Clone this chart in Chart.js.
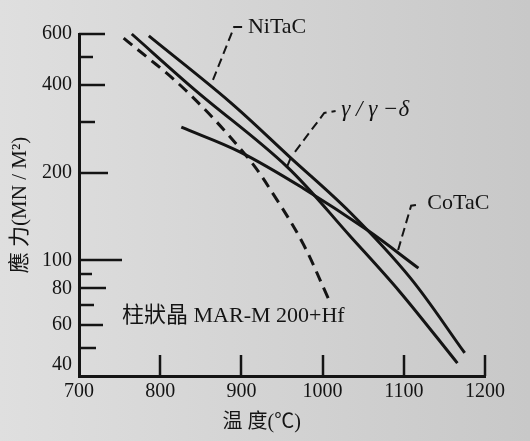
<!DOCTYPE html>
<html><head><meta charset="utf-8">
<script src="https://cdn.jsdelivr.net/npm/chart.js@4"></script>
<style>
html,body{margin:0;padding:0;}
body{width:530px;height:441px;overflow:hidden;background:linear-gradient(90deg,#dfdfdf,#c8c8c8);}
</style></head><body>
<canvas id="c" width="530" height="441"></canvas>
<script>
// ---- data ----
const xTickValues = [700, 800, 900, 1000, 1100, 1200];
const yLabelValues = [40, 60, 80, 100, 200, 400, 600];
const yMinorValues = [50, 70, 90, 300, 500];

const nitacTemp   = [786, 886, 960, 1034, 1108, 1175];
const nitacStress = [591, 350, 226, 146, 87, 48];
const gammaTemp   = [765, 843, 956, 1034, 1095, 1166];
const gammaStress = [600, 385, 210, 121, 78, 44.3];
const cotacTemp   = [826, 898, 976, 1055, 1118];
const cotacStress = [287, 236, 177, 127, 94];
const marmTemp    = [755, 831, 907, 944, 976, 1007];
const marmStress  = [581, 385, 227, 161, 114, 74];
const barTemp     = [961, 956];
const barStress   = [226, 209];

const nitacLeaderTemp   = [865, 891, 902];
const nitacLeaderStress = [417, 634, 634];
const gammaLeaderTemp   = [966, 1002, 1016];
const gammaLeaderStress = [236, 321, 326];
const cotacLeaderTemp   = [1093, 1109, 1121];
const cotacLeaderStress = [108.5, 154, 156];

const seriesLabels = ['NiTaC', 'γ / γ −δ', 'CoTaC'];
const labelTemp    = [908, 1023, 1129];
const labelStress  = [634, 329, 157];
const noteText     = '柱狀晶 MAR-M 200+Hf';
const noteTemp     = 753;
const noteStress   = 64.3;
const xTitle = '温 度(℃)';
const yTitle = '應 力(MN / M²)';

// ---- helpers ----
const pts = (xs, ys) => xs.map((x, i) => ({x: x, y: ys[i]}));
const INK = '#141414';
const SERIF = '"Liberation Serif", "Noto Sans CJK TC", serif';

function curve(label, xs, ys, extra) {
  return Object.assign({
    label: label, data: pts(xs, ys), borderColor: INK, borderWidth: 3,
    pointRadius: 0, fill: false, tension: 0.35, clip: false
  }, extra || {});
}

const yTickLen = {600: 26, 500: 14, 400: 26, 300: 16, 200: 29, 100: 43, 90: 13, 80: 27, 70: 15, 60: 24, 50: 17};
const xTickLen = 21;

const decorPlugin = {
  id: 'decor',
  afterDatasetsDraw(chart) {
    const ctx = chart.ctx, xs = chart.scales.x, ys = chart.scales.y, ca = chart.chartArea;
    ctx.save();
    ctx.strokeStyle = INK;
    ctx.lineWidth = 2.5;
    ctx.lineCap = 'butt';
    // inward y ticks
    yLabelValues.concat(yMinorValues).forEach(v => {
      const len = yTickLen[v];
      if (!len) return;
      const py = Math.round(ys.getPixelForValue(v));
      ctx.beginPath(); ctx.moveTo(ca.left, py); ctx.lineTo(ca.left + len, py); ctx.stroke();
    });
    // inward x ticks
    xTickValues.forEach(v => {
      if (v === xs.min) return;
      const px = Math.round(xs.getPixelForValue(v));
      ctx.beginPath(); ctx.moveTo(px, ca.bottom); ctx.lineTo(px, ca.bottom - xTickLen); ctx.stroke();
    });
    // series labels
    ctx.fillStyle = INK;
    ctx.textBaseline = 'middle';
    ctx.textAlign = 'left';
    seriesLabels.forEach((t, i) => {
      ctx.font = (i === 1 ? 'italic 23px ' : '22px ') + SERIF;
      ctx.fillText(t, xs.getPixelForValue(labelTemp[i]), ys.getPixelForValue(labelStress[i]));
    });
    // note
    ctx.font = '22px ' + SERIF;
    ctx.fillText(noteText, xs.getPixelForValue(noteTemp), ys.getPixelForValue(noteStress));
    // x title
    ctx.font = '20px ' + SERIF;
    ctx.textAlign = 'center';
    ctx.fillText(xTitle, ca.left + 0.45 * (ca.right - ca.left), ca.bottom + 47);
    ctx.restore();
  }
};

const straight = {tension: 0};
const leader = {borderWidth: 2, borderDash: [9, 5], tension: 0};

new Chart(document.getElementById('c'), {
  type: 'line',
  data: {
    datasets: [
      curve('NiTaC', nitacTemp, nitacStress),
      curve('γ/γ−δ', gammaTemp, gammaStress),
      curve('CoTaC', cotacTemp, cotacStress),
      curve('MAR-M 200+Hf', marmTemp, marmStress, {borderDash: [11, 7]}),
      curve('bar', barTemp, barStress, {borderWidth: 2, tension: 0}),
      curve('NiTaC leader', nitacLeaderTemp, nitacLeaderStress, leader),
      curve('γ leader', gammaLeaderTemp, gammaLeaderStress, leader),
      curve('CoTaC leader', cotacLeaderTemp, cotacLeaderStress, leader)
    ]
  },
  options: {
    responsive: false,
    animation: false,
    devicePixelRatio: 1,
    layout: {padding: {left: 6, right: 45, top: 34, bottom: 0}},
    plugins: {legend: {display: false}, tooltip: {enabled: false}},
    scales: {
      x: {
        type: 'linear', min: 700, max: 1200,
        afterBuildTicks: s => { s.ticks = xTickValues.map(v => ({value: v})); },
        afterFit: s => { s.height = 65; },
        border: {display: true, color: INK, width: 3},
        grid: {display: true, drawOnChartArea: false, drawTicks: false},
        ticks: {color: INK, font: {family: SERIF, size: 20}, padding: 4, maxRotation: 0, autoSkip: false,
          callback: v => String(v)}
      },
      y: {
        type: 'logarithmic', min: 40, max: 600,
        afterBuildTicks: s => { s.ticks = yLabelValues.map(v => ({value: v})); },
        afterFit: s => { s.width = 73; },
        border: {display: true, color: INK, width: 3},
        grid: {display: true, drawOnChartArea: false, drawTicks: false},
        ticks: {
          color: INK, font: {family: SERIF, size: 20, lineHeight: 1.1}, padding: 7, autoSkip: false,
          callback: v => (v === yLabelValues[0] ? [String(v), ''] : String(v))
        },
        title: {display: true, text: yTitle, color: INK, font: {family: SERIF, size: 21}, padding: {top: 2, bottom: 0}}
      }
    }
  },
  plugins: [decorPlugin]
});
</script>
</body></html>
